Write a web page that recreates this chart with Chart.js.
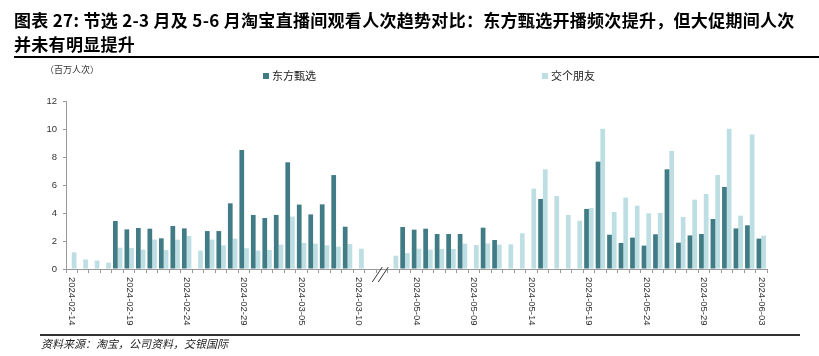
<!DOCTYPE html>
<html>
<head>
<meta charset="utf-8">
<script src="https://cdn.jsdelivr.net/npm/chart.js@4/dist/chart.umd.min.js"></script>
<style>
  html, body { margin: 0; padding: 0; background: #fff; }
  #wrap { position: relative; width: 819px; height: 356px; overflow: hidden; font-family: "Noto Sans CJK SC", "Noto Sans", sans-serif; }
  #c { position: absolute; left: 0; top: 0; }
  .title { position: absolute; left: 14px; top: 8px; font-size: 17px; font-weight: bold; line-height: 24px; color: #000; letter-spacing: 0.3px; white-space: nowrap; }
  .rule1 { position: absolute; left: 14px; right: 0; top: 56px; height: 2px; background: #000; }
  .unit { position: absolute; left: 45px; top: 63px; font-size: 9px; color: #333; }
  .leg { position: absolute; top: 67px; font-size: 11px; color: #222; white-space: nowrap; line-height: 16px; }
  .leg i { display: inline-block; width: 6px; height: 6px; margin-right: 3px; vertical-align: 1px; }
  .rule2 { position: absolute; left: 40px; right: 19px; top: 334px; height: 1.5px; background: #333; }
  .src { position: absolute; left: 41px; top: 335px; font-size: 11px; font-style: italic; color: #222; white-space: nowrap; }
</style>
</head>
<body>
<div id="wrap">
  <canvas id="c" width="819" height="356"></canvas>
  <div class="title">图表 27: 节选 2-3 月及 5-6 月淘宝直播间观看人次趋势对比：东方甄选开播频次提升，但大促期间人次<br>并未有明显提升</div>
  <div class="rule1"></div>
  <div class="unit">（百万人次）</div>
  <div class="leg" style="left:263px"><i style="background:#417b85"></i>东方甄选</div>
  <div class="leg" style="left:542px"><i style="background:#bddee2"></i>交个朋友</div>
  <div class="rule2"></div>
  <div class="src">资料来源：淘宝，公司资料，交银国际</div>
</div>
<script>
const categories = [
  '2024-02-14','2024-02-15','2024-02-16','2024-02-17','2024-02-18','2024-02-19','2024-02-20','2024-02-21',
  '2024-02-22','2024-02-23','2024-02-24','2024-02-25','2024-02-26','2024-02-27','2024-02-28','2024-02-29',
  '2024-03-01','2024-03-02','2024-03-03','2024-03-04','2024-03-05','2024-03-06','2024-03-07','2024-03-08',
  '2024-03-09','2024-03-10','2024-03-11',
  '2024-05-01','2024-05-02','2024-05-03','2024-05-04','2024-05-05','2024-05-06','2024-05-07','2024-05-08',
  '2024-05-09','2024-05-10','2024-05-11','2024-05-12','2024-05-13','2024-05-14','2024-05-15','2024-05-16',
  '2024-05-17','2024-05-18','2024-05-19','2024-05-20','2024-05-21','2024-05-22','2024-05-23','2024-05-24',
  '2024-05-25','2024-05-26','2024-05-27','2024-05-28','2024-05-29','2024-05-30','2024-05-31','2024-06-01',
  '2024-06-02','2024-06-03'
];
const tickLabels = ['2024-02-14','2024-02-19','2024-02-24','2024-02-29','2024-03-05','2024-03-10',
  '2024-05-04','2024-05-09','2024-05-14','2024-05-19','2024-05-24','2024-05-29','2024-06-03'];
const yTicks = [0, 2, 4, 6, 8, 10, 12];
const seriesNames = ['东方甄选', '交个朋友'];
const dongfang = [
  null, null, null, null, 3.43, 2.83, 2.93, 2.88, 2.19, 3.07, 2.90, null, 2.71, 2.71, 4.69, 8.50,
  3.86, 3.64, 3.86, 7.62, 4.60, 3.90, 4.62, 6.71, 3.02, null, null,
  null, null, 3.00, 2.81, 2.88, 2.50, 2.50, 2.50, null, 2.95, 2.07, null, null, null, 5.00, null,
  null, null, 4.29, 7.67, 2.45, 1.86, 2.24, 1.67, 2.48, 7.12, 1.88, 2.40, 2.50, 3.57, 5.86, 2.90,
  3.12, 2.17
];
const jiaogepengyou = [
  1.19, 0.68, 0.60, 0.45, 1.52, 1.50, 1.38, 2.10, 1.36, 2.10, 2.36, 1.31, 2.10, 1.69, 2.17, 1.48,
  1.31, 1.36, 1.74, 3.74, 1.86, 1.81, 1.69, 1.60, 1.79, 1.45, null,
  null, 0.95, 1.14, 1.45, 1.38, 1.43, 1.43, 1.81, 1.71, 1.83, 1.74, 1.76, 2.55, 5.74, 7.12, 5.21,
  3.86, 3.45, 4.36, 10.02, 4.07, 5.10, 4.52, 3.98, 4.00, 8.43, 3.71, 4.95, 5.36, 6.71, 10.02, 3.81,
  9.60, 2.38
];
const breakAfter = '2024-03-11';

const overlay = {
  id: 'overlay',
  afterDraw(chart) {
    const ctx = chart.ctx;
    const xs = chart.scales.x;
    ctx.save();
    ctx.fillStyle = '#333';
    ctx.font = '9.5px "Liberation Sans", Arial, sans-serif';
    ctx.textAlign = 'left';
    ctx.textBaseline = 'middle';
    categories.forEach((c, i) => {
      if (!tickLabels.includes(c)) return;
      const x = xs.getPixelForValue(i);
      ctx.save();
      ctx.translate(x, xs.top + 8);
      ctx.rotate(Math.PI / 2);
      ctx.fillText(c, 0, 0);
      ctx.restore();
    });
    const bi = categories.indexOf(breakAfter);
    const mid = (xs.getPixelForValue(bi) + xs.getPixelForValue(bi + 1)) / 2;
    const y0 = xs.top;
    ctx.strokeStyle = '#333';
    ctx.lineWidth = 1;
    [-4, 2].forEach(off => {
      ctx.beginPath();
      ctx.moveTo(mid + off, y0 + 13);
      ctx.lineTo(mid + off + 10, y0 - 2);
      ctx.stroke();
    });
    ctx.restore();
  }
};

new Chart(document.getElementById('c'), {
  type: 'bar',
  data: {
    labels: categories,
    datasets: [
      { label: seriesNames[0], data: dongfang, backgroundColor: '#417b85', categoryPercentage: 0.82, barPercentage: 1.0 },
      { label: seriesNames[1], data: jiaogepengyou, backgroundColor: '#bddee2', categoryPercentage: 0.82, barPercentage: 1.0 }
    ]
  },
  options: {
    responsive: false,
    animation: false,
    devicePixelRatio: 1,
    layout: { padding: { top: 101, right: 52, bottom: 26, left: 0 } },
    plugins: { legend: { display: false }, tooltip: { enabled: false }, title: { display: false } },
    scales: {
      x: {
        offset: true,
        grid: { display: true, drawOnChartArea: false, drawTicks: true, tickLength: 4, color: '#999', offset: true },
        border: { display: true, color: '#999', width: 1 },
        ticks: { display: false },
        afterFit(s) { s.height = 61; }
      },
      y: {
        min: 0, max: 12,
        afterBuildTicks(s) { s.ticks = yTicks.map(v => ({ value: v })); },
        grid: { display: true, drawOnChartArea: false, drawTicks: true, tickLength: 3, color: '#999' },
        border: { display: true, color: '#999', width: 1 },
        ticks: { color: '#333', padding: 6, font: { size: 9.5, family: '"Liberation Sans", Arial, sans-serif' } },
        afterFit(s) { s.width = 66; }
      }
    }
  },
  plugins: [overlay]
});
</script>
</body>
</html>
